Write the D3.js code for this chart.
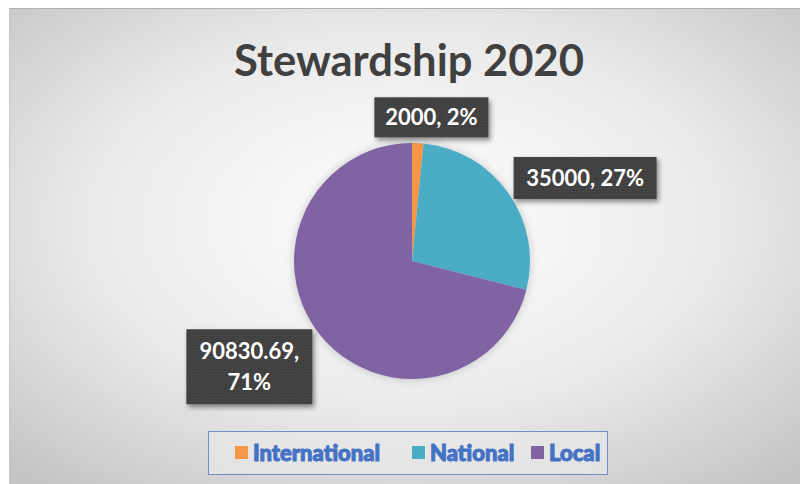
<!DOCTYPE html>
<html lang="en">
<head>
  <meta charset="UTF-8">
  <title>Stewardship 2020</title>
  <script src="https://d3js.org/d3.v7.min.js"></script>
  <style>
    body { margin: 0; background: #fff; }
    svg { display: block; }
  </style>
</head>
<body>
  <svg id="chart" width="800" height="484"></svg>

  <script>
    // data
    const categories = ["International", "National", "Local"];
    const values = [2000, 35000, 90830.69];
    const percentLabels = ["2%", "27%", "71%"];
    const colors = ["#f79646", "#4bacc6", "#8064a2"];

    const svg = d3.select("#chart");
    const defs = svg.append("defs");

    // background gradient
    const grad = defs.append("radialGradient").attr("id", "bg")
      .attr("cx", "0.5").attr("cy", "0.45").attr("r", "0.72");
    grad.append("stop").attr("offset", "0").attr("stop-color", "#ffffff");
    grad.append("stop").attr("offset", "0.55").attr("stop-color", "#eaeaea");
    grad.append("stop").attr("offset", "1").attr("stop-color", "#c4c4c4");

    // dotted fill for the data labels
    const pat = defs.append("pattern").attr("id", "dots")
      .attr("width", 3).attr("height", 3).attr("patternUnits", "userSpaceOnUse");
    pat.append("rect").attr("width", 3).attr("height", 3).attr("fill", "#404040");
    pat.append("circle").attr("cx", 1.5).attr("cy", 1.5).attr("r", 0.7).attr("fill", "#4c4c4c");

    const shadow = defs.append("filter").attr("id", "shadow")
      .attr("x", "-20%").attr("y", "-20%").attr("width", "150%").attr("height", "160%");
    shadow.append("feDropShadow").attr("dx", 2).attr("dy", 3).attr("stdDeviation", 2.5)
      .attr("flood-color", "#000").attr("flood-opacity", 0.45);

    const pieShadow = defs.append("filter").attr("id", "pieShadow")
      .attr("x", "-20%").attr("y", "-20%").attr("width", "140%").attr("height", "140%");
    pieShadow.append("feDropShadow").attr("dx", 0).attr("dy", 0).attr("stdDeviation", 4)
      .attr("flood-color", "#000").attr("flood-opacity", 0.2);

    // chart area
    svg.append("rect").attr("x", 9).attr("y", 8).attr("width", 791).attr("height", 476)
      .attr("fill", "url(#bg)");
    svg.append("line").attr("x1", 9).attr("x2", 800).attr("y1", 8.5).attr("y2", 8.5)
      .attr("stroke", "#b0b0b0");
    svg.append("line").attr("x1", 9.5).attr("x2", 9.5).attr("y1", 8).attr("y2", 484)
      .attr("stroke", "#c8c8c8");

    // title
    svg.append("text")
      .attr("x", 409).attr("y", 76)
      .attr("text-anchor", "middle")
      .attr("font-family", "Lato, 'Open Sans', sans-serif")
      .attr("font-weight", "bold")
      .attr("font-size", 43)
      .attr("fill", "#404040")
      .attr("textLength", 350).attr("lengthAdjust", "spacingAndGlyphs")
      .text("Stewardship 2020");

    // pie
    const cx = 412, cy = 261, radius = 118;
    const data = categories.map((c, i) => ({ name: c, value: values[i], pct: percentLabels[i], color: colors[i] }));
    const pie = d3.pie().value(d => d.value).sort(null);
    const arc = d3.arc().innerRadius(0).outerRadius(radius);
    const arcs = pie(data);

    const g = svg.append("g").attr("transform", `translate(${cx},${cy})`);
    g.append("g").attr("filter", "url(#pieShadow)")
      .selectAll("path")
      .data(arcs)
      .enter().append("path")
      .attr("d", arc)
      .attr("fill", d => d.data.color);

    // data labels (placed outside, like Excel best fit)
    const labelRadius = [145, 192, 194];
    const labelAngleShift = [0.085, 0.165, 0.085];
    const labelLines = [
      [`${values[0]}, ${percentLabels[0]}`],
      [`${values[1]}, ${percentLabels[1]}`],
      [`${values[2]},`, percentLabels[2]]
    ];
    const boxSize = [[114, 40], [143, 42], [126, 75]];

    arcs.forEach((a, i) => {
      const ang = (a.startAngle + a.endAngle) / 2 + labelAngleShift[i];
      const lx = Math.sin(ang) * labelRadius[i];
      const ly = -Math.cos(ang) * labelRadius[i];
      const [w, h] = boxSize[i];
      const lg = g.append("g").attr("transform", `translate(${lx},${ly})`);
      lg.append("rect")
        .attr("x", -w / 2).attr("y", -h / 2).attr("width", w).attr("height", h)
        .attr("fill", "url(#dots)")
        .attr("filter", "url(#shadow)");
      const lines = labelLines[i];
      lines.forEach((t, k) => {
        lg.append("text")
          .attr("x", 0)
          .attr("y", (k - (lines.length - 1) / 2) * 31 + 8)
          .attr("text-anchor", "middle")
          .attr("font-family", "Lato, 'Open Sans', sans-serif")
          .attr("font-weight", "bold")
          .attr("font-size", 22)
          .attr("fill", "#ffffff")
          .text(t);
      });
    });

    // legend
    const legend = svg.append("g");
    legend.append("rect").attr("x", 208.5).attr("y", 431.5).attr("width", 399).attr("height", 43)
      .attr("fill", "#ebebeb").attr("fill-opacity", 0.6)
      .attr("stroke", "#6f8fc9").attr("stroke-width", 1);
    const legendX = [235, 412, 531];
    const legendItems = legend.selectAll("g.item")
      .data(data)
      .enter().append("g")
      .attr("class", "item")
      .attr("transform", (d, i) => `translate(${legendX[i]},453)`);
    legendItems.append("rect")
      .attr("x", 0).attr("y", -7).attr("width", 13).attr("height", 13)
      .attr("fill", d => d.color);
    legendItems.append("text")
      .attr("x", 18).attr("y", 8)
      .attr("font-family", "Lato, 'Open Sans', sans-serif")
      .attr("font-weight", 900)
      .attr("font-size", 22)
      .attr("fill", "#4472c4")
      .attr("stroke", "#4472c4").attr("stroke-width", 1)
      .attr("stroke-linejoin", "round")
      .text(d => d.name);
  </script>
</body>
</html>
